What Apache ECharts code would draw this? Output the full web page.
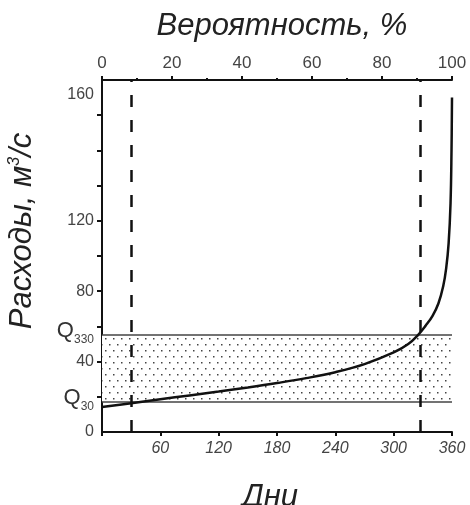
<!DOCTYPE html>
<html>
<head>
<meta charset="utf-8">
<script src="https://cdn.jsdelivr.net/npm/echarts@6/dist/echarts.min.js"></script>
<style>
  html, body { margin: 0; padding: 0; background: #fff; }
  #chart { width: 470px; height: 505px; }
</style>
</head>
<body>
<div id="chart"></div>
<script>
// кривая обеспеченности расходов: дни / расход
var days = [0, 30, 60, 90, 120, 150, 180, 210, 240, 270, 300, 315, 325, 333, 340, 346, 351, 354, 356.5, 358.5, 359.5, 360];
var flows = [14.2, 16.4, 18.6, 20.8, 23.0, 25.3, 27.8, 30.6, 34.0, 38.6, 45.2, 50.0, 55.1, 60.5, 66, 73, 83, 93, 107, 130, 160, 190];

// уровни Q30 и Q330, вертикальные пунктиры (дни)
var q30 = 17.2;
var q330 = 55.1;
var dashDays = [30, 327];

// подписи оси расходов
var yLabelValues = [0, q30, 40, q330, 80, 120, 191.5];
var yLabelTexts = ['0', '{q|Q}{s|30}', '40', '{q|Q}{s|330}', '80', '120', '160'];
var yTickValues = [20, 40, 60, 80, 100, 120, 140, 160, 180];

var curveData = [];
days.forEach(function (d, i) {
  curveData.push([d, flows[i]]);
});

// точечная заливка
function dotPattern() {
  var c = document.createElement('canvas');
  c.width = 8;
  c.height = 12;
  var ctx = c.getContext('2d');
  ctx.fillStyle = '#fff';
  ctx.fillRect(0, 0, 8, 12);
  ctx.fillStyle = '#444';
  ctx.fillRect(1, 2, 1.5, 1.5);
  ctx.fillRect(5, 8, 1.5, 1.5);
  return c;
}

var font = 'Liberation Sans';

var option = {
  backgroundColor: '#fff',
  animation: false,
  grid: { left: 102, right: 18, top: 80, bottom: 73, outerBoundsMode: 'none', containLabel: false },
  xAxis: [
    {
      type: 'value',
      position: 'bottom',
      min: 0,
      max: 360,
      interval: 60,
      name: 'Дни',
      nameLocation: 'middle',
      nameGap: 50,
      nameTextStyle: { fontFamily: font, fontSize: 31, fontStyle: 'italic', color: '#222', padding: [0, 14, 0, 0] },
      axisLine: { lineStyle: { color: '#111', width: 2 } },
      axisTick: { inside: false, length: 4, lineStyle: { color: '#111', width: 2 } },
      axisLabel: {
        fontFamily: font, fontSize: 16, fontStyle: 'italic', color: '#444', margin: 9,
        formatter: function (v) { return v === 0 ? '' : v; }
      },
      splitLine: { show: false }
    },
    {
      type: 'value',
      position: 'top',
      min: 0,
      max: 100,
      interval: 20,
      name: 'Вероятность, %',
      nameLocation: 'middle',
      nameGap: 38,
      nameTextStyle: { fontFamily: font, fontSize: 31, fontStyle: 'italic', color: '#222', padding: [0, 0, 0, 10] },
      axisLine: { lineStyle: { color: '#111', width: 2 } },
      axisTick: { length: 4, lineStyle: { color: '#111', width: 2 } },
      minorTick: { show: true, splitNumber: 2, length: 2, lineStyle: { color: '#111', width: 2 } },
      axisLabel: { fontFamily: font, fontSize: 17, color: '#444', margin: 8 },
      splitLine: { show: false }
    }
  ],
  yAxis: {
    type: 'value',
    min: 0,
    max: 200,
    interval: 20,
    name: '{a|Расходы, м}{sup|3}{a|/с}',
    nameLocation: 'middle',
    nameRotate: 90,
    nameGap: 64,
    nameTextStyle: {
      padding: [0, 0, 0, 50],
      rich: {
        a: { fontFamily: font, fontSize: 31, fontStyle: 'italic', color: '#222' },
        sup: { fontFamily: font, fontSize: 16, fontStyle: 'italic', color: '#222', padding: [0, 0, 15, 0] }
      }
    },
    axisLine: { show: true, lineStyle: { color: '#111', width: 2 } },
    axisTick: { show: true, length: 5, customValues: yTickValues, lineStyle: { color: '#111', width: 2 } },
    axisLabel: {
      customValues: yLabelValues,
      margin: 8,
      fontFamily: font, fontSize: 16, color: '#444',
      formatter: function (v) {
        var i = yLabelValues.indexOf(v);
        return i >= 0 ? yLabelTexts[i] : '';
      },
      rich: {
        q: { fontFamily: font, fontSize: 22, color: '#333', padding: [0, 0, 8, 0] },
        s: { fontFamily: font, fontSize: 12, color: '#444', padding: [10, 0, 0, 0] }
      }
    },
    splitLine: { show: false }
  },
  series: [
    {
      type: 'line',
      xAxisIndex: 0,
      data: [],
      silent: true,
      markArea: {
        silent: true,
        itemStyle: { color: { image: dotPattern(), repeat: 'repeat' } },
        data: [[{ yAxis: q30 }, { yAxis: q330 }]]
      },
      markLine: {
        silent: true,
        symbol: 'none',
        label: { show: false },
        lineStyle: { color: '#444', width: 1.5, type: 'solid' },
        data: [{ yAxis: q30 }, { yAxis: q330 }]
      }
    },
    {
      type: 'line',
      xAxisIndex: 0,
      data: [],
      silent: true,
      markLine: {
        silent: true,
        symbol: 'none',
        label: { show: false },
        lineStyle: { color: '#111', width: 2.5, type: [12, 13] },
        data: dashDays.map(function (d) { return { xAxis: d }; })
      }
    },
    {
      type: 'line',
      xAxisIndex: 0,
      data: curveData,
      showSymbol: false,
      smooth: 0.4,
      lineStyle: { color: '#111', width: 2.5 },
      z: 5
    }
  ]
};

var myChart = echarts.init(document.getElementById('chart'));
myChart.setOption(option);
</script>
</body>
</html>
